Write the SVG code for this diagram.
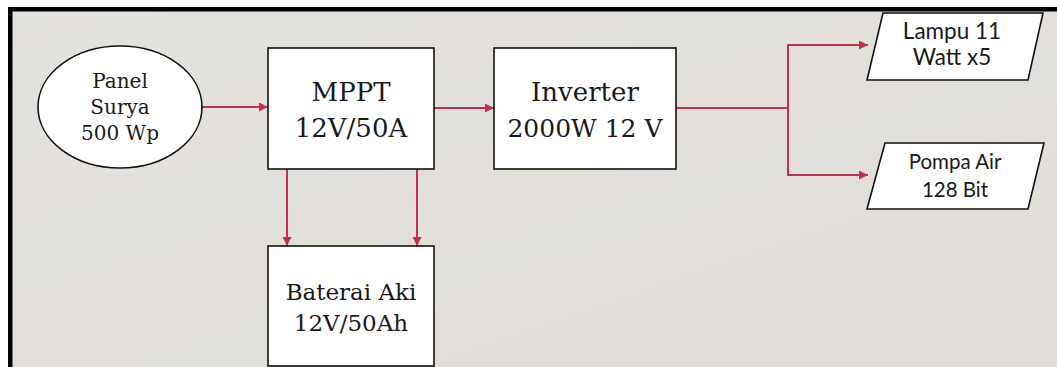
<svg xmlns="http://www.w3.org/2000/svg" width="1057" height="367" viewBox="0 0 1057 367">
<style>
.box{fill:#ffffff;stroke:#111111;stroke-width:1.6}
.ser{font-family:"DejaVu Serif","Liberation Serif",serif;fill:#1a1a1a;text-anchor:middle}
.san{font-family:Lato,"Open Sans","Liberation Sans",sans-serif;fill:#1a1a1a;text-anchor:middle}
.con{fill:none;stroke:#c3304f;stroke-width:2}
</style>
<defs>
<marker id="ah" viewBox="0 0 10 10" refX="10" refY="5" markerWidth="9" markerHeight="9" markerUnits="userSpaceOnUse" orient="auto">
<path d="M0,0 L10,5 L0,10 z" fill="#c3304f"/>
</marker>
<linearGradient id="bg" x1="0" y1="0" x2="1" y2="1">
<stop offset="0" stop-color="#e4e2de"/>
<stop offset="1" stop-color="#e0ddd9"/>
</linearGradient>
</defs>
<rect x="0" y="0" width="1057" height="367" fill="#ffffff"/>
<rect x="8" y="7" width="1049" height="360" fill="#000000"/>
<rect x="12.5" y="11.5" width="1044.5" height="355.5" fill="url(#bg)"/>
<g id="connectors">
<path class="con" d="M202,107 H268" marker-end="url(#ah)"/>
<path class="con" d="M434,108 H494" marker-end="url(#ah)"/>
<path class="con" d="M676,108 H788"/>
<path class="con" d="M788,108 V45 H868" marker-end="url(#ah)"/>
<path class="con" d="M788,108 V175 H868" marker-end="url(#ah)"/>
<path class="con" d="M287,169 V246" marker-end="url(#ah)"/>
<path class="con" d="M417,169 V246" marker-end="url(#ah)"/>
</g>
<g id="panel">
<ellipse class="box" cx="120" cy="107" rx="82" ry="61"/>
<text class="ser" font-size="20" x="120" y="88">Panel</text>
<text class="ser" font-size="20" x="120" y="114">Surya</text>
<text class="ser" font-size="20" x="120" y="140">500 Wp</text>
</g>
<g id="mppt">
<rect class="box" x="268" y="48" width="166" height="121"/>
<text class="ser" font-size="26" x="351" y="101">MPPT</text>
<text class="ser" font-size="26" x="351" y="137">12V/50A</text>
</g>
<g id="inverter">
<rect class="box" x="494" y="48" width="182" height="121"/>
<text class="ser" font-size="26" x="585" y="101">Inverter</text>
<text class="ser" font-size="25" x="585" y="137">2000W 12 V</text>
</g>
<g id="baterai">
<rect class="box" x="268" y="246" width="166" height="120"/>
<text class="ser" font-size="23" x="351" y="300">Baterai Aki</text>
<text class="ser" font-size="23" x="351" y="331">12V/50Ah</text>
</g>
<g id="lampu">
<polygon class="box" points="883,13 1043,13 1028,80 867,80"/>
<text class="san" font-size="22.5" x="952" y="39">Lampu 11</text>
<text class="san" font-size="22.5" x="952" y="65">Watt x5</text>
</g>
<g id="pompa">
<polygon class="box" points="885,143 1044,143 1028,209 867,209"/>
<text class="san" font-size="20.5" x="955" y="169">Pompa Air</text>
<text class="san" font-size="20.5" x="955" y="197">128 Bit</text>
</g>
</svg>
